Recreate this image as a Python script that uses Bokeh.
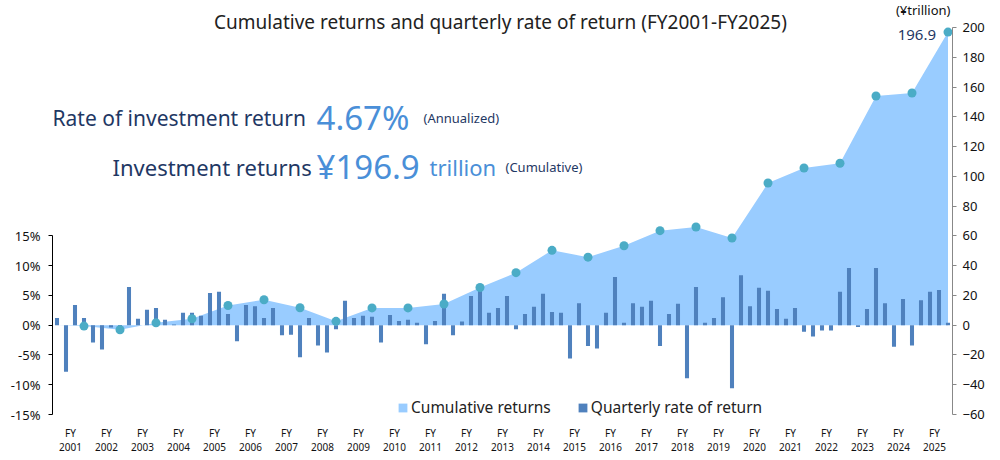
from bokeh.plotting import figure
from bokeh.models import (Range1d, LinearAxis, FixedTicker, Legend, LegendItem,
                          PrintfTickFormatter, CustomJSTickFormatter)
from bokeh.core.properties import value
from bokeh.embed import file_html
from bokeh.resources import INLINE

# ---- data -----------------------------------------------------------------
fiscal_years = list(range(2001, 2026))

# cumulative investment returns at each fiscal year end (trillion yen)
cumulative_fy = [-0.6, -3.1, 1.6, 4.3, 13.2, 17.1, 11.7, 2.6, 11.6, 11.6,
                 14.2, 25.3, 35.3, 50.3, 45.7, 53.4, 63.5, 66.0, 58.6, 95.5,
                 105.6, 108.8, 154.0, 156.0, 196.9]

# quarterly rate of return (%), FY2001 Q1 .. FY2025 Q4
quarterly_rate = [
    1.2, -7.8, 3.4, 1.2,    -2.9, -4.1, -0.4, -0.8,   6.4, 1.1, 2.6, 2.9,
    0.9, 0.1, 2.1, 2.1,     1.6, 5.4, 5.6, 1.9,      -2.7, 3.4, 3.2, 1.2,
    2.9, -1.7, -1.6, -5.4,  1.2, -3.4, -4.6, -0.7,    4.1, 1.2, 1.6, 1.4,
    -2.9, 1.7, 0.7, 0.9,    0.4, -3.2, 0.7, 5.3,     -1.7, 0.6, 4.9, 6.9,
    2.1, 2.9, 4.9, -0.7,    1.9, 3.1, 5.3, 2.2,       2.1, -5.6, 3.7, -3.5,
    -3.9, 2.1, 8.1, 0.4,    3.7, 3.1, 4.1, -3.5,      1.9, 3.6, -8.9, 6.4,
    0.4, 1.2, 4.7, -10.6,   8.4, 3.2, 6.3, 5.8,       2.7, 1.1, 2.9, -1.1,
    -1.9, -0.9, -0.9, 5.6,  9.6, -0.3, 2.7, 9.6,      3.7, -3.6, 4.4, -3.4,
    4.2, 5.6, 5.9, 0.4,
]

pct_ticks = [-15, -10, -5, 0, 5, 10, 15]
yen_ticks = [-60, -40, -20, 0, 20, 40, 60, 80, 100, 120, 140, 160, 180, 200]

# ---- styling ----------------------------------------------------------------
FONT = "Noto Sans"
NAVY = "#1f3864"
SKY = "#4a8fd8"
AREA = "#99ccff"
BAR = "#4f81bd"
DOT = "#4bacc6"

LEFT, RIGHT, TOP, BOTTOM = 52, 48, 0, 42
FRAME_W, FRAME_H = 900, 418
PX_PER_UNIT = 387 / 260            # trillion-yen scale: 200 .. -60 over 387 px
Y_HI = 200 + 27 / PX_PER_UNIT      # 200 sits 27 px below the top edge
Y_LO = Y_HI - FRAME_H / PX_PER_UNIT

n_q = len(quarterly_rate)
q_idx = list(range(n_q))
fy_end = [4 * k + 3 for k in range(len(fiscal_years))]
area_x = [0] + fy_end
area_y = [0] + cumulative_fy

p = figure(frame_width=FRAME_W, frame_height=FRAME_H,
           output_backend="svg", toolbar_location=None,
           x_range=Range1d(-0.5, n_q - 0.5), y_range=Range1d(Y_LO, Y_HI),
           y_axis_location=None,
           min_border_left=LEFT, min_border_right=RIGHT,
           min_border_top=TOP, min_border_bottom=BOTTOM,
           outline_line_color=None, background_fill_color="white")
p.extra_y_ranges = {"pct": Range1d(Y_LO / 4, Y_HI / 4)}
p.xgrid.visible = False
p.ygrid.visible = False


def sx(px):
    """canvas pixel x -> data x"""
    return -0.5 + (px - LEFT) * n_q / FRAME_W


def sy(py):
    """canvas pixel y -> data y (trillion yen scale)"""
    return Y_HI - (py - TOP) / PX_PER_UNIT


# ---- axes -------------------------------------------------------------------
xa = p.xaxis[0]
xa.ticker = FixedTicker(ticks=[4 * k + 1.5 for k in range(len(fiscal_years))])
xa.formatter = CustomJSTickFormatter(code="return 'FY\\n' + (2001 + Math.floor(tick / 4));")
xa.axis_line_color = None
xa.major_tick_line_color = None
xa.minor_tick_line_color = None
xa.major_tick_in = 0
xa.major_tick_out = 0
xa.major_label_standoff = 7
xa.major_label_text_font = FONT
xa.major_label_text_font_size = "10px"
xa.major_label_text_line_height = 1.0
xa.major_label_text_color = "#111111"

left = LinearAxis(y_range_name="pct", ticker=FixedTicker(ticks=pct_ticks),
                  formatter=PrintfTickFormatter(format="%d%%"), bounds=(-15, 15))
left.axis_line_color = "#000000"
left.major_tick_line_color = "#000000"
left.major_tick_in = 0
left.major_tick_out = 4
left.minor_tick_line_color = None
left.major_label_standoff = 8
left.major_label_text_font = FONT
left.major_label_text_font_size = "13px"
left.major_label_text_color = "#111111"
p.add_layout(left, "left")

right = LinearAxis(ticker=FixedTicker(ticks=yen_ticks), bounds=(-60, 200))
right.axis_line_color = "#888888"
right.major_tick_line_color = "#888888"
right.major_tick_in = 0
right.major_tick_out = 4
right.minor_tick_line_color = None
right.major_label_standoff = 6
right.major_label_text_font = FONT
right.major_label_text_font_size = "13px"
right.major_label_text_color = "#111111"
p.add_layout(right, "right")

# ---- marks ------------------------------------------------------------------
area_r = p.varea(x=area_x, y1=0, y2=area_y, fill_color=AREA)
bar_r = p.vbar(x=q_idx, top=quarterly_rate, width=0.45, y_range_name="pct",
               fill_color=BAR, line_color=None)
p.scatter(x=fy_end, y=cumulative_fy, size=9, fill_color=DOT, line_color=None)

# value label on the latest point
p.text(x=[fy_end[-1]], y=[cumulative_fy[-1]], text=[f"{cumulative_fy[-1]:.1f}"],
       x_offset=-12, y_offset=3, text_align="right", text_baseline="middle",
       text_font=value(FONT), text_font_size="15px", text_color=NAVY)


# ---- headline texts ---------------------------------------------------------
def put(px, py, txt, size, color, align="left", baseline="alphabetic"):
    p.text(x=[sx(px)], y=[sy(py)], text=[txt], text_align=align,
           text_baseline=baseline, text_font=value(FONT), text_font_size=size,
           text_color=color)


put(500, 21, "Cumulative returns and quarterly rate of return (FY2001-FY2025)",
    "19px", "#222222", align="center", baseline="middle")
put(950, 9, "(¥trillion)", "13px", "#111111", align="right", baseline="middle")

put(52, 117, "Rate of investment return", "21px", NAVY)
put(316, 117, "4.67%", "33px", SKY)
put(423, 117, "(Annualized)", "13px", NAVY)

put(112, 166, "Investment returns", "22px", NAVY)
put(316, 166, "¥196.9", "33px", SKY)
put(429, 166, "trillion", "22px", SKY)
put(505, 166, "(Cumulative)", "13px", NAVY)

# ---- legend -----------------------------------------------------------------
legend = Legend(items=[LegendItem(label="Cumulative returns", renderers=[area_r]),
                       LegendItem(label="Quarterly rate of return", renderers=[bar_r])],
                orientation="horizontal", location=(345, 0),
                border_line_color=None, background_fill_alpha=0,
                padding=0, margin=0, spacing=26, label_standoff=3,
                glyph_width=11, glyph_height=11,
                label_text_font=FONT, label_text_font_size="15.5px",
                label_text_color="#222222")
p.add_layout(legend)

open("out.html", "w").write(file_html(p, INLINE))
